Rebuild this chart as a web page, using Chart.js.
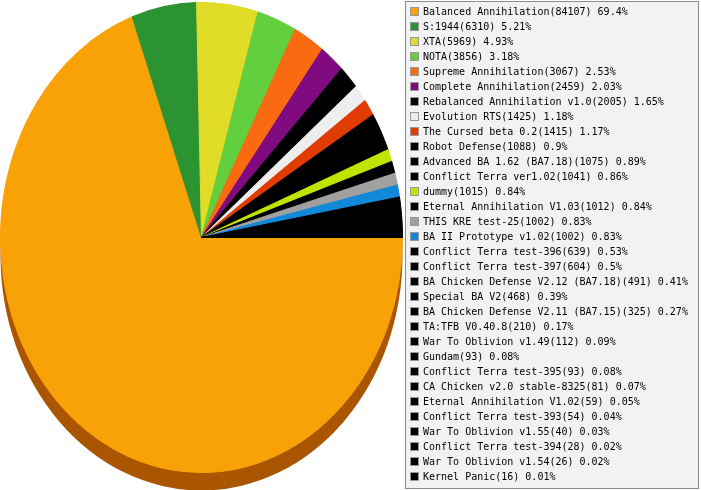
<!DOCTYPE html>
<html>
<head>
<meta charset="utf-8">
<script src="https://cdn.jsdelivr.net/npm/chart.js@4/dist/chart.umd.min.js"></script>
<style>
  html, body { margin: 0; padding: 0; background: #ffffff; }
  canvas { display: block; }
</style>
</head>
<body>
<canvas id="mods_chart" width="701" height="490"></canvas>
<script>
const mods = [
    "Balanced Annihilation", "S:1944", "XTA", "NOTA", "Supreme Annihilation",
    "Complete Annihilation", "Rebalanced Annihilation v1.0", "Evolution RTS",
    "The Cursed beta 0.2", "Robot Defense", "Advanced BA 1.62 (BA7.18)",
    "Conflict Terra ver1.02", "dummy", "Eternal Annihilation V1.03",
    "THIS KRE test-25", "BA II Prototype v1.02", "Conflict Terra test-396",
    "Conflict Terra test-397", "BA Chicken Defense V2.12 (BA7.18)", "Special BA V2",
    "BA Chicken Defense V2.11 (BA7.15)", "TA:TFB V0.40.8", "War To Oblivion v1.49",
    "Gundam", "Conflict Terra test-395", "CA Chicken v2.0 stable-8325",
    "Eternal Annihilation V1.02", "Conflict Terra test-393", "War To Oblivion v1.55",
    "Conflict Terra test-394", "War To Oblivion v1.54", "Kernel Panic"
];
const games = [
    84107, 6310, 5969, 3856, 3067, 2459, 2005, 1425, 1415, 1088, 1075,
    1041, 1015, 1012, 1002, 1002, 639, 604, 491, 468, 325, 210, 112,
    93, 93, 81, 59, 54, 40, 28, 26, 16
];
const percents = [
    "69.4", "5.21", "4.93", "3.18", "2.53", "2.03", "1.65", "1.18", "1.17", "0.9", "0.89",
    "0.86", "0.84", "0.84", "0.83", "0.83", "0.53", "0.5", "0.41", "0.39", "0.27", "0.17", "0.09",
    "0.08", "0.08", "0.07", "0.05", "0.04", "0.03", "0.02", "0.02", "0.01"
];
const colours = [
    "#f8a208", "#2c9333", "#e0dc28", "#62cf3e", "#fa6a10", "#800a80", "#000000", "#eeeeee",
    "#e03c00", "#000000", "#000000", "#000000", "#c0e400", "#000000", "#a0a0a0", "#1288d8",
    "#000000", "#000000", "#000000", "#000000", "#000000", "#000000", "#000000", "#000000",
    "#000000", "#000000", "#000000", "#000000", "#000000", "#000000", "#000000", "#000000"
];

// the original pie is a bit taller than wide, with a brown rim underneath
const squash = 235 / 201;
const rimDepth = 18;

const pieShape = {
    id: 'pieShape',
    beforeDatasetsDraw: (chart) => {
        const {ctx} = chart;
        const arc = chart.getDatasetMeta(0).data[0];
        const cx = arc.x, cy = arc.y, r = arc.outerRadius;
        ctx.save();
        ctx.fillStyle = '#aa5500';
        ctx.beginPath();
        ctx.ellipse(cx, cy + rimDepth, r, r * squash, 0, 0, Math.PI * 2);
        ctx.fill();
        ctx.translate(cx, cy);
        ctx.scale(1, squash);
        ctx.translate(-cx, -cy);
    },
    afterDatasetsDraw: (chart) => {
        chart.ctx.restore();
    }
};

const legendBox = {
    id: 'legendBox',
    afterDraw: (chart) => {
        const {ctx} = chart;
        ctx.save();
        ctx.fillStyle = '#f2f2f2';
        ctx.fillRect(405.5, 1.5, 293, 487);
        ctx.strokeStyle = '#8c8c8c';
        ctx.lineWidth = 1;
        ctx.strokeRect(405.5, 1.5, 293, 487);
        ctx.font = '10px "DejaVu Sans Mono"';
        ctx.textBaseline = 'middle';
        mods.forEach((name, i) => {
            const y = 12 + i * 15;
            ctx.fillStyle = colours[i];
            ctx.fillRect(410.5, y - 4.5, 8, 8);
            ctx.strokeStyle = '#999999';
            ctx.strokeRect(410.5, y - 4.5, 8, 8);
            ctx.fillStyle = '#000000';
            ctx.fillText(name + "(" + games[i] + ") " + percents[i] + "%", 423, y + 0.5);
        });
        ctx.restore();
    }
};

const mods_chart = new Chart(document.getElementById('mods_chart').getContext('2d'), {
    type: 'pie',
    data: {
        labels: mods,
        datasets: [{
            data: games,
            backgroundColor: colours,
            borderColor: colours,
            borderWidth: 1
        }]
    },
    options: {
        responsive: false,
        animation: false,
        devicePixelRatio: 1,
        rotation: 90,
        layout: {
            padding: { left: 0, right: 298, top: 36, bottom: 51 }
        },
        plugins: {
            legend: { display: false },
            tooltip: { enabled: false }
        }
    },
    plugins: [pieShape, legendBox]
});
</script>
</body>
</html>
